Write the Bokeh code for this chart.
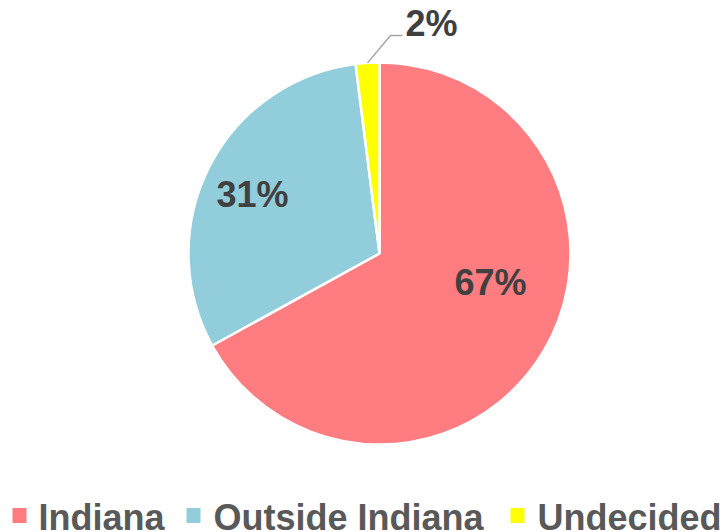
import math
from bokeh.plotting import figure
from bokeh.models import Range1d, ColumnDataSource
from bokeh.core.properties import value
from bokeh.embed import file_html
from bokeh.resources import INLINE

# ---- data ----
categories = ["Indiana", "Outside Indiana", "Undecided"]
shares = [67, 31, 2]
colors = ["#FF7C80", "#92CDDC", "#FFFF00"]
pct_labels = [f"{v}%" for v in shares]

# ---- layout (page pixel coordinates, y measured downwards) ----
W, H = 727, 532
CX, CY, R = 379, 253, 191
label_pos = [(490, 282), (252, 194), (405, 23)]   # text anchors
label_align = ["center", "center", "left"]
leader_elbow = [(390, 35), (402, 35)]
legend_box_x = [19, 193, 517]
legend_text_x = [38, 213, 537]
legend_box_y = 515
legend_text_y = 517


def Y(img_y):
    return H - img_y


p = figure(width=W, height=H, output_backend="svg", toolbar_location=None,
           x_range=Range1d(0, W), y_range=Range1d(0, H),
           min_border=0, outline_line_color=None)
p.axis.visible = False
p.grid.visible = False
p.background_fill_color = "white"
p.border_fill_color = "white"

# wedge angles: start at top, go clockwise
total = sum(shares)
starts, ends, mids = [], [], []
a = math.pi / 2
for v in shares:
    span = 2 * math.pi * v / total
    starts.append(a)
    ends.append(a - span)
    mids.append(a - span / 2)
    a -= span

src = ColumnDataSource(dict(x=[CX] * 3, y=[Y(CY)] * 3, start=starts, end=ends,
                            color=colors, cat=categories))
p.wedge(x="x", y="y", radius=R, start_angle="start", end_angle="end",
        direction="clock", fill_color="color", line_color="white",
        line_width=2.5, source=src)

# percentage labels
for i, lab in enumerate(pct_labels):
    lx, ly = label_pos[i]
    p.text(x=[lx], y=[Y(ly)], text=[lab], text_font=value("Liberation Sans"),
           text_font_style="bold", text_font_size="36px", text_color="#404040",
           text_align=label_align[i], text_baseline="alphabetic")

# leader line for the small slice
m = mids[2]
sx = CX + R * math.cos(m)
sy = CY - R * math.sin(m)
xs = [sx] + [pt[0] for pt in leader_elbow]
ys = [Y(sy)] + [Y(pt[1]) for pt in leader_elbow]
p.line(xs, ys, line_color="#A6A6A6", line_width=1.5)

# legend
for i, cat in enumerate(categories):
    p.rect(x=[legend_box_x[i]], y=[Y(legend_box_y)], width=14, height=15,
           width_units="screen", height_units="screen",
           fill_color=colors[i], line_color=None)
    p.text(x=[legend_text_x[i]], y=[Y(legend_text_y)], text=[cat],
           text_font=value("Liberation Sans"),
           text_font_style="bold", text_font_size="36px", text_color="#595959",
           text_align="left", text_baseline="alphabetic")

open("out.html", "w").write(file_html(p, INLINE))
